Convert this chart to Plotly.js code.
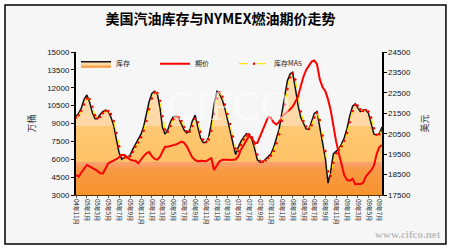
<!DOCTYPE html>
<html><head><meta charset="utf-8">
<script src="https://cdn.plot.ly/plotly-3.0.1.min.js"></script>
<style>html,body{margin:0;padding:0;background:#fff}#c{width:450px;height:250px}</style>
</head><body><div id="c"></div>
<script>
const dates = [
"2004-11-01","2004-11-16","2004-12-01","2004-12-16",
"2005-01-01","2005-01-16","2005-02-01","2005-02-16","2005-03-01","2005-03-16","2005-04-01","2005-04-16","2005-05-01","2005-05-16","2005-06-01","2005-06-16",
"2005-07-01","2005-07-16","2005-08-01","2005-08-16","2005-09-01","2005-09-16","2005-10-01","2005-10-16","2005-11-01","2005-11-16","2005-12-01","2005-12-16",
"2006-01-01","2006-01-16","2006-02-01","2006-02-16","2006-03-01","2006-03-16","2006-04-01","2006-04-16","2006-05-01","2006-05-16","2006-06-01","2006-06-16",
"2006-07-01","2006-07-16","2006-08-01","2006-08-16","2006-09-01","2006-09-16","2006-10-01","2006-10-16","2006-11-01","2006-11-16","2006-12-01","2006-12-16",
"2007-01-01","2007-01-16","2007-02-01","2007-02-16","2007-03-01","2007-03-16","2007-04-01","2007-04-16","2007-05-01","2007-05-16","2007-06-01","2007-06-16",
"2007-07-01","2007-07-16","2007-08-01","2007-08-16","2007-09-01","2007-09-16","2007-10-01","2007-10-16","2007-11-01","2007-11-16","2007-12-01","2007-12-16",
"2008-01-01","2008-01-16","2008-02-01","2008-02-16","2008-03-01","2008-03-16","2008-04-01","2008-04-16","2008-05-01","2008-05-16","2008-06-01","2008-06-16",
"2008-07-01","2008-07-16","2008-08-01","2008-08-16","2008-09-01","2008-09-16","2008-10-01","2008-10-16","2008-11-01","2008-11-16","2008-12-01","2008-12-16",
"2009-01-01","2009-01-16","2009-02-01","2009-02-16","2009-03-01","2009-03-16","2009-04-01","2009-04-16","2009-05-01","2009-05-16","2009-06-01","2009-06-16",
"2009-07-01","2009-07-16"];

const stock = [
9600,9850,10300,11000,11400,10800,9900,9400,9400,9750,
10000,10130,10000,9550,8800,7500,6550,6000,6200,6150,
6350,6850,7250,7600,8100,8750,9700,10800,11530,11700,
11450,10300,8700,8100,8500,9150,9570,9600,9450,9000,
8450,8200,8400,9200,9700,8700,7800,7400,7400,7850,
9000,10600,11700,11500,10950,10200,9400,8500,7300,6400,
7000,7500,7850,8150,8050,7700,6900,5950,5750,5800,
6000,6200,6450,7000,7700,8500,9900,11300,12600,13150,
13300,12000,10500,9500,8950,8550,8500,9200,9850,10000,
8700,7350,6080,4000,5000,6450,6700,6900,7300,7800,
8600,9650,10450,10650,10350,10000,10130,10130,9850,9100,
8100,8030,8150,8700];

const stockMA5 = [
9500,9700,10050,10600,11100,11050,10400,9700,9450,9550,
9850,10050,10050,9800,9200,8200,7100,6350,6150,6150,
6250,6600,7050,7400,7850,8400,9200,10200,11100,11600,
11550,10900,9600,8500,8300,8800,9350,9550,9500,9200,
8700,8350,8300,8800,9400,9100,8300,7650,7450,7650,
8400,9800,11100,11600,11250,10600,9800,8950,7900,6900,
6700,7200,7650,8000,8100,7850,7300,6400,5850,5800,
5900,6100,6300,6700,7350,8100,9200,10600,11900,12850,
13200,12700,11300,10000,9200,8750,8550,8850,9500,9900,
9300,8000,6700,5000,4600,5700,6500,6800,7100,7550,
8200,9100,10050,10550,10500,10200,10050,10130,10000,9500,
8600,8050,8100,8400];

const price = [
18480,18400,18600,18780,18970,18900,18830,18760,18680,18560,
18550,18800,19050,19120,19180,19250,19350,19460,19460,19350,
19230,19190,19180,19050,19250,19400,19540,19600,19400,19270,
19230,19380,19620,19860,19860,19920,19940,19970,20040,20110,
20050,19880,19600,19340,19210,19140,19180,19180,19150,19230,
19300,18720,18970,19150,19220,19230,19230,19210,19210,19240,
19390,19720,19950,20200,20400,20300,20050,20050,20370,20710,
20980,21320,21270,21050,20950,21080,21330,21470,21590,21700,
21820,22050,22350,22820,23290,23620,23860,24030,24080,23900,
23150,22790,22580,22180,21650,20820,20100,19520,18980,18470,
18230,18200,18300,18020,18050,18030,18100,18400,18560,18700,
18950,19500,19840,19950];

const seriesNames = ["库存", "期价", "库存MA5"];
const titleText = "美国汽油库存与NYMEX燃油期价走势";
const leftTitle = "万桶";
const rightTitle = "美元";

const F = "Liberation Sans, Arial, Noto Sans CJK SC, sans-serif";
const CJK = "Noto Sans CJK SC, sans-serif";

const traces = [
  {x: dates, y: stock, name: seriesNames[0], type: "scatter", mode: "lines",
   line: {color: "#111", width: 1.5}, fill: "tozeroy", fillcolor: "#FFC46A",
   fillgradient: {type: "vertical", start: 3000, stop: 15000,
     colorscale: [[0, "#F8942E"], [0.18, "#F89A45"], [0.2333, "#F9A278"], [0.2334, "#FFC266"], [0.48, "#FFC872"], [0.4801, "#FFD7A6"], [1, "#FFDFB6"]]},
   yaxis: "y"},
  {x: dates, y: price, name: seriesNames[1], type: "scatter", mode: "lines",
   line: {color: "#FF0000", width: 2}, yaxis: "y2"},
  {x: dates, y: stockMA5, name: seriesNames[2], type: "scatter", mode: "lines+markers",
   line: {color: "#FFE600", width: 1.2, dash: "dash"},
   marker: {color: "#FF0000", size: 2.5}, yaxis: "y"}
];

const layout = {
  width: 450, height: 250,
  margin: {l: 76, r: 68, t: 52, b: 55},
  paper_bgcolor: "#ffffff", plot_bgcolor: "rgba(0,0,0,0)",
  showlegend: true,
  legend: {orientation: "h", x: 0.0, y: 1.02, xanchor: "left", yanchor: "top",
    bgcolor: "rgba(0,0,0,0)", font: {family: CJK, size: 7, color: "#222"},
    itemwidth: 30, entrywidth: 34, entrywidthmode: "pixels", tracegroupgap: 0},
  title: {text: "<b>" + titleText + "</b>", x: 0.49, xanchor: "center", y: 0.925, yanchor: "middle",
    font: {family: CJK, size: 14, color: "#000"}},
  xaxis: {type: "date", range: ["2004-11-01", "2009-07-16"], dtick: "M2", tick0: "2004-11-01",
    tickformat: "%y年%-m月", tickangle: 90, tickfont: {family: CJK, size: 6, color: "#111"},
    showgrid: false, zeroline: false, showline: true, linecolor: "#553300", linewidth: 1,
    ticks: "outside", ticklen: 2, tickcolor: "#555"},
  yaxis: {range: [3000, 15000], dtick: 1500, tick0: 3000, tickformat: "d", showgrid: false, zeroline: false,
    showline: true, linecolor: "#000", linewidth: 2, ticks: "outside", ticklen: 3, tickcolor: "#000",
    tickfont: {family: F, size: 8, color: "#111"},
    title: {text: leftTitle, font: {family: CJK, size: 9, color: "#333"}, standoff: 10}},
  yaxis2: {range: [17500, 24500], dtick: 1000, tick0: 17500, tickformat: "d", overlaying: "y", side: "right",
    showgrid: false, zeroline: false, showline: true, linecolor: "#000", linewidth: 1.5,
    ticks: "outside", ticklen: 3, tickcolor: "#000",
    tickfont: {family: F, size: 8, color: "#111"},
    title: {text: rightTitle, font: {family: CJK, size: 9, color: "#333"}, standoff: 12}},
  shapes: [
    {type: "rect", xref: "paper", yref: "paper", x0: -0.232, x1: 1.209, y0: -0.343, y1: 1.329,
     line: {color: "#000", width: 1.5}, fillcolor: "#F6F6F6", layer: "below"}
  ],
  annotations: [
    {xref: "paper", yref: "paper", x: 0.5, y: 0.62, text: "CIFCO", showarrow: false,
     font: {family: "Liberation Serif, serif", size: 42, color: "rgba(255,255,255,0.55)"}},
    {xref: "paper", yref: "paper", x: 1.2, y: -0.33, xanchor: "right", yanchor: "bottom",
     text: "<b>www.cifco.net</b>", showarrow: false,
     font: {family: "Liberation Serif, serif", size: 11, color: "rgba(150,150,150,0.6)"}}
  ]
};

Plotly.newPlot("c", traces, layout, {displayModeBar: false, staticPlot: true});
</script></body></html>
